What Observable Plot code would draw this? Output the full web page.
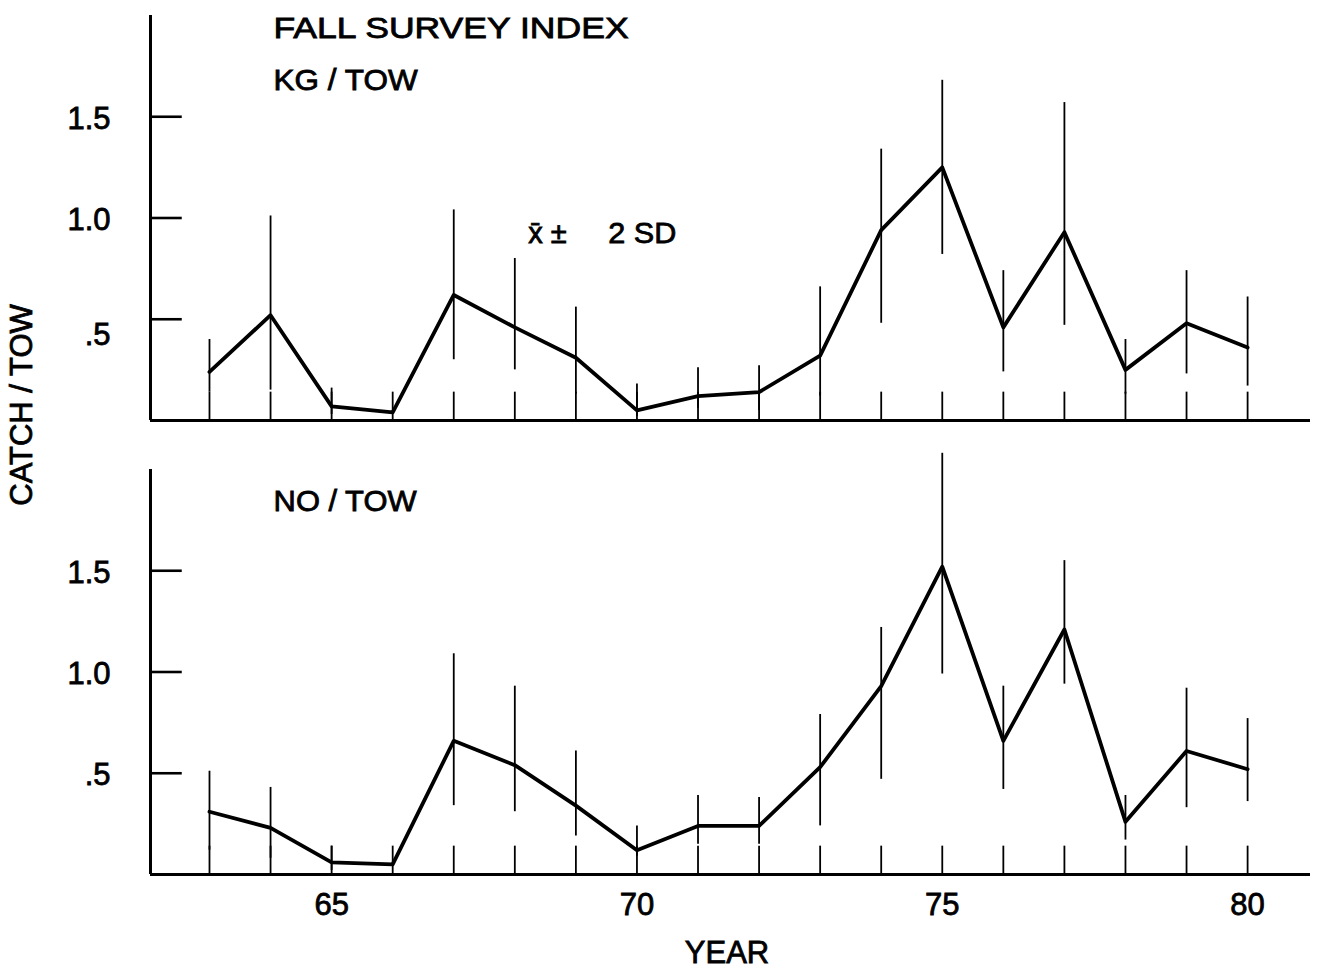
<!DOCTYPE html>
<html>
<head>
<meta charset="utf-8">
<script src="https://cdn.jsdelivr.net/npm/d3@7"></script>
<script src="https://cdn.jsdelivr.net/npm/@observablehq/plot@0.6"></script>
<style>
  html, body { margin: 0; padding: 0; background: #fff; }
  #chart svg { display: block; }
</style>
</head>
<body>
<div id="chart"></div>
<script>
// ---- data ----
const years = [63, 64, 65, 66, 67, 68, 69, 70, 71, 72, 73, 74, 75, 76, 77, 78, 79, 80];

// Top panel: KG / TOW  (mean, mean-2SD, mean+2SD)
const kgMean = [0.24, 0.52, 0.07, 0.04, 0.62, 0.46, 0.31, 0.05, 0.12, 0.14, 0.32, 0.94, 1.25, 0.46, 0.93, 0.25, 0.48, 0.36];
const kgLow  = [0.14, 0.15, 0.03, 0.03, 0.30, 0.25, 0.13, 0.02, 0.06, 0.05, 0.12, 0.48, 0.82, 0.24, 0.47, 0.13, 0.23, 0.17];
const kgHigh = [0.40, 1.01, 0.16, 0.05, 1.04, 0.80, 0.56, 0.18, 0.26, 0.27, 0.66, 1.34, 1.68, 0.74, 1.57, 0.40, 0.74, 0.61];

// Bottom panel: NO / TOW
const noMean = [0.31, 0.23, 0.06, 0.05, 0.66, 0.54, 0.34, 0.12, 0.24, 0.24, 0.53, 0.93, 1.52, 0.66, 1.21, 0.26, 0.61, 0.52];
const noLow  = [0.12, 0.08, 0.02, 0.04, 0.34, 0.31, 0.19, 0.09, 0.15, 0.15, 0.24, 0.47, 0.99, 0.42, 0.94, 0.17, 0.33, 0.36];
const noHigh = [0.51, 0.43, 0.14, 0.06, 1.09, 0.93, 0.61, 0.24, 0.39, 0.38, 0.79, 1.22, 2.08, 0.93, 1.55, 0.39, 0.92, 0.77];

const panels = ["KG", "NO"];
const xTickLabels = [65, 70, 75, 80];
const yTickValues = [0.5, 1.0, 1.5];
const yTickLabels = [".5", "1.0", "1.5"];

const panelTitles = [
  {panel: "KG", x: 64.05, y: 1.936, text: "FALL SURVEY INDEX", len: 355},
  {panel: "KG", x: 64.05, y: 1.68, text: "KG / TOW", len: 144},
  {panel: "KG", x: 68.22, y: 0.923, text: "x\u0304 \u00B1", len: 0},
  {panel: "KG", x: 69.53, y: 0.923, text: "2 SD", len: 68},
  {panel: "NO", x: 64.05, y: 1.84, text: "NO / TOW", len: 143}
];

// ---- build tables ----
const rows = [];
years.forEach((yr, i) => {
  rows.push({panel: "KG", year: yr, mean: kgMean[i], lo: kgLow[i], hi: kgHigh[i]});
  rows.push({panel: "NO", year: yr, mean: noMean[i], lo: noLow[i], hi: noHigh[i]});
});
const yLabelRows = [];
panels.forEach(p => yTickValues.forEach((v, i) => {
  // the ".5" of the upper panel is lettered a little below its tick in the original
  yLabelRows.push({panel: p, value: v, label: yTickLabels[i], low: p === "KG" && v === 0.5});
}));

const FONT = "'Liberation Sans', Arial, sans-serif";
const X0 = 62.034, X1 = 81.03;

const plot = Plot.plot({
  width: 1328,
  height: 970,
  marginLeft: 150,
  marginRight: 18,
  marginTop: 15,
  marginBottom: 96,
  style: {fontFamily: FONT, background: "#fff", color: "#000", overflow: "visible"},
  x: {domain: [X0, X1]},
  y: {domain: [0, 2], axis: null},
  fy: {domain: panels, paddingInner: 0.108, paddingOuter: 0, axis: null},
  marks: [
    // axes frame
    Plot.ruleX([X0], {y1: 0, y2: 2, stroke: "#000", strokeWidth: 3}),
    Plot.ruleY([0], {x1: X0, x2: X1, stroke: "#000", strokeWidth: 3}),
    // inward y ticks
    Plot.ruleY(yTickValues, {x1: X0, x2: X0 + 0.52, stroke: "#000", strokeWidth: 2.6}),
    // year ticks rising from the base line
    Plot.ruleX(years, {y1: 0, y2: 0.14, stroke: "#000", strokeWidth: 1.8}),
    // error bars (mean ± 2 SD)
    Plot.ruleX(rows, {x: "year", y1: "lo", y2: "hi", fy: "panel", stroke: "#000", strokeWidth: 1.8}),
    // mean lines
    Plot.line(rows.filter(d => d.panel === "KG"), {x: "year", y: "mean", fy: "panel", stroke: "#000", strokeWidth: 3.8}),
    Plot.line(rows.filter(d => d.panel === "NO"), {x: "year", y: "mean", fy: "panel", stroke: "#000", strokeWidth: 3.8}),
    // y tick labels
    Plot.text(yLabelRows.filter(d => !d.low), {x: () => X0, y: "value", fy: "panel", text: "label", dx: -40, dy: 2, textAnchor: "end", fontSize: 31, fill: "#000"}),
    Plot.text(yLabelRows.filter(d => d.low), {x: () => X0, y: "value", fy: "panel", text: "label", dx: -40, dy: 16, textAnchor: "end", fontSize: 31, fill: "#000"}),
    // x tick labels
    Plot.axisX({ticks: xTickLabels, tickSize: 0, tickPadding: 18, fontSize: 31, label: null}),
    // panel annotations
    Plot.text(panelTitles, {x: "x", y: "y", fy: "panel", text: "text", textAnchor: "start", fontSize: 29, fill: "#000"})
  ]
});

const svg = d3.select(plot);
// stretch the hand-lettered annotations to their widths in the original
svg.selectAll("text").each(function () {
  const t = d3.select(this).text();
  const row = panelTitles.find(p => p.text === t);
  if (row && row.len) d3.select(this).attr("textLength", row.len).attr("lengthAdjust", "spacingAndGlyphs");
});
svg.append("text")
  .attr("transform", "translate(32,405) rotate(-90)")
  .attr("text-anchor", "middle")
  .attr("font-size", 31)
  .attr("font-family", FONT)
  .attr("fill", "#000")
  .text("CATCH / TOW");
svg.append("text")
  .attr("x", 727)
  .attr("y", 963)
  .attr("text-anchor", "middle")
  .attr("font-size", 31)
  .attr("font-family", FONT)
  .attr("fill", "#000")
  .text("YEAR");
// heavier strokes, like the pen lettering of the original
svg.selectAll("text").attr("stroke", "#000").attr("stroke-width", 0.8);

document.getElementById("chart").appendChild(plot);
</script>
</body>
</html>
